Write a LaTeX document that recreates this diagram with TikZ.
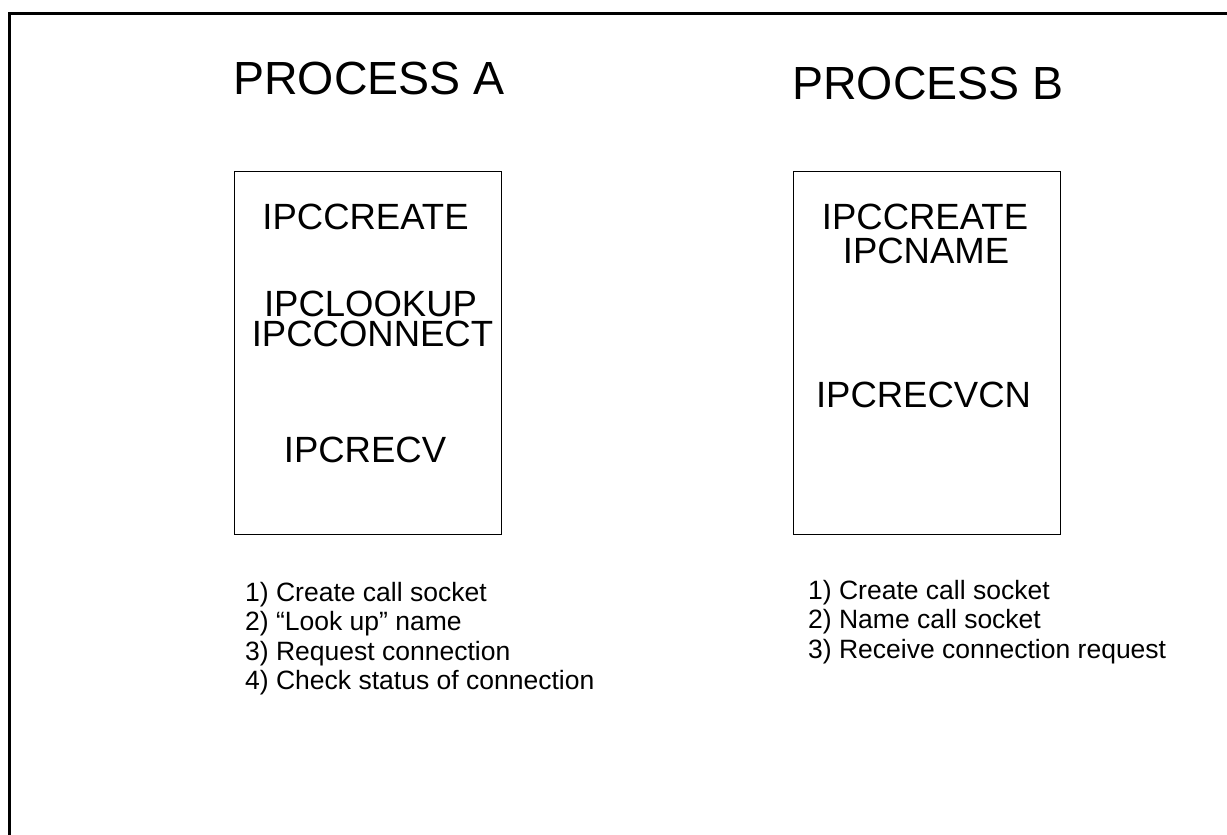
\documentclass[tikz,border=0pt]{standalone}
\usepackage{fontspec}
\setmainfont{Liberation Sans}
\usetikzlibrary{positioning}

\begin{document}
\begin{tikzpicture}[x=1pt, y=-1pt, inner sep=0pt,
	title/.style = {font=\fontsize{46.5}{50}\selectfont},
	call/.style = {font=\fontsize{36.5}{40}\selectfont},
	proc/.style = {draw, line width=1pt, minimum width=267pt, minimum height=363pt},
	item/.style = {anchor=base west, font=\fontsize{26.5}{29.5}\selectfont}]
		\useasboundingbox (0,0) rectangle (1227,835);
		\draw[line width=3pt] (9.5,835) -- (9.5,13.5) -- (1227,13.5);
		
		\node[title] (titleA) at (369,78.3) {PROCESS A};
		\node[title] (titleB) at (928,83.3) {PROCESS B};
		
		\node[proc] (boxA) at (368.2,352.5) {};
		\node[proc] (boxB) at (926.7,352.5) {};
		
		\node[call] (createA) at (365.5,217) {IPCCREATE};
		\node[call] (lookupA) at (370.5,303.5) {IPCLOOKUP};
		\node[call] (connectA) at (372.5,333.5) {IPCCONNECT};
		\node[call] (recvA) at (365,450) {IPCRECV};
		
		\node[call] (createB) at (925,217) {IPCCREATE};
		\node[call] (nameB) at (926,251) {IPCNAME};
		\node[call] (recvcnB) at (923.5,395) {IPCRECVCN};
		
		\node[item] (a1) at (245,601) {1) Create call socket};
		\node[item] (a2) at (245,630.5) {2) “Look up” name};
		\node[item] (a3) at (245,660) {3) Request connection};
		\node[item] (a4) at (245,689.5) {4) Check status of connection};
		
		\node[item] (b1) at (808,599) {1) Create call socket};
		\node[item] (b2) at (808,628.5) {2) Name call socket};
		\node[item] (b3) at (808,658) {3) Receive connection request};
		\end{tikzpicture}
\end{document}
